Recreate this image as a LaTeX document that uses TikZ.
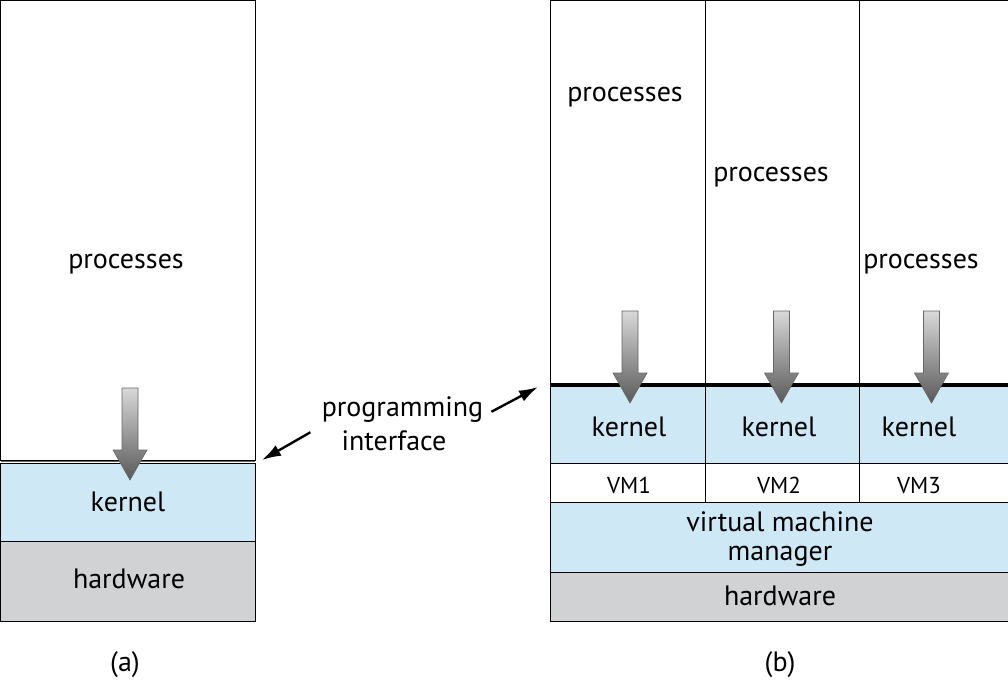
\documentclass[tikz,border=0pt]{standalone}
\usepackage{fontspec}
\setmainfont{PT Sans}
\usetikzlibrary{arrows.meta}
\definecolor{kernblue}{RGB}{207,232,245}
\definecolor{hwgray}{RGB}{209,210,212}
\tikzset{
	lbl/.style={font=\fontsize{28}{32}\selectfont, inner sep=0pt, anchor=base},
	cell/.style={draw=black, line width=0.8pt},
	ptr/.style={-{Latex[length=19pt,width=12pt]}, line width=2.4pt},
	kdown/.pic={
		\shade[top color=black!15, bottom color=black!65, draw=black!60, line width=0.6pt]
			(-8,-92) -- (-8,-30) -- (-17,-30) -- (0,0) -- (17,-30) -- (8,-30) -- (8,-92) -- cycle;
	}
}
\begin{document}
\begin{tikzpicture}[x=1pt,y=-1pt]
	\useasboundingbox (0,0) rectangle (1008,680);
	% (a)
	\filldraw[cell, fill=white] (0.5,0.5) rectangle (255,460);
	\filldraw[cell, fill=kernblue] (0.5,463) rectangle (255,541);
	\filldraw[cell, fill=hwgray] (0.5,541) rectangle (255,621);
	\draw[black!60, line width=0.8pt] (0.5,461.5) -- (255,461.5);
	\node[lbl] (procA) at (126,268) {processes};
	\node[lbl] (kernA) at (128,511) {kernel};
	\node[lbl] (hwA) at (129,588) {hardware};
	\node[lbl] (labA) at (125,671) {(a)};
	\pic at (130,480) {kdown};
	% (b)
	\foreach \i/\xl/\xr/\xc/\px/\pb in {1/550.5/705/629/625/101, 2/705/859/779/771/181, 3/859/1012/919/921/268} {
		\filldraw[cell, fill=white] (\xl,0.5) rectangle (\xr,385);
		\filldraw[cell, fill=kernblue] (\xl,385) rectangle (\xr,463);
		\filldraw[cell, fill=white] (\xl,463) rectangle (\xr,502);
		\node[lbl] (procB\i) at (\px,\pb) {processes};
		\node[lbl] (kernB\i) at (\xc,436) {kernel};
		\node[lbl, font=\fontsize{23}{27}\selectfont] (vm\i) at (\xc,493) {VM\i};
	}
	\draw[line width=3.5pt] (550.5,385) -- (1012,385);
	\filldraw[cell, fill=kernblue] (550.5,502) rectangle (1012,572);
	\filldraw[cell, fill=hwgray] (550.5,572) rectangle (1012,621);
	\node[lbl] (vmmA) at (780,531) {virtual machine};
	\node[lbl] (vmmB) at (780,560) {manager};
	\node[lbl] (hwB) at (780,605) {hardware};
	\node[lbl] (labB) at (780,671) {(b)};
	\foreach \ax in {630,781.5,931.5}
		\pic at (\ax,403) {kdown};
	% programming interface
	\node[lbl] (prog) at (402.5,416.7) {programming};
	\node[lbl] (intf) at (394,450) {interface};
	\coordinate (ifA) at (262,460);
	\coordinate (ifB) at (538,387);
	\draw[ptr] ([shift={(-31,-8)}]intf.west) -- (ifA);
	\draw[ptr] ([shift={(8,2)}]prog.east) -- (ifB);
\end{tikzpicture}
\end{document}
